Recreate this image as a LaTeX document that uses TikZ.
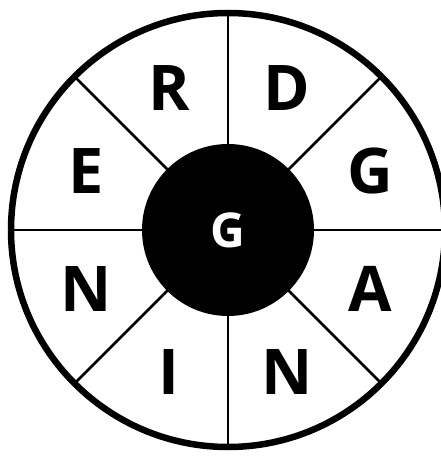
\documentclass[tikz,border=0pt]{standalone}
\usepackage{fontspec}
\setmainfont{Open Sans}
\usepackage{xcolor}

\begin{document}
\begin{tikzpicture}[x=1pt, y=1pt,
    ringstyle/.style={circle, draw, line width=6.5pt, inner sep=0pt, outer sep=0pt, minimum size=434pt},
    hubstyle/.style={circle, fill=black, inner sep=0pt, outer sep=0pt, minimum size=172pt},
    letter/.style={font=\fontsize{63}{63}\selectfont\bfseries, inner sep=0pt},
    spoke/.style={line width=2.5pt}]
    \useasboundingbox (0,0) rectangle (441,456);
    \clip (0,0) rectangle (441,456);
    \node[ringstyle] (ring) at (228,226) {};
    \draw[spoke] (ring.north) -- (ring.south);
    \draw[spoke] (ring.west) -- (ring.east);
    \draw[spoke] (ring.45) -- (ring.225);
    \draw[spoke] (ring.135) -- (ring.315);
    \node[hubstyle] (hub) at (ring.center) {};
    \node[font=\fontsize{48}{48}\selectfont\bfseries, text=white, inner sep=0pt] (hubletter) at (hub.center) {G};
    \node[letter] (r) at ([shift={(112.5:154)}]ring.center) {R};
    \node[letter] (d) at ([shift={(67.5:154)}]ring.center) {D};
    \node[letter] (g) at ([shift={(22.5:154)}]ring.center) {G};
    \node[letter] (a) at ([shift={(-22.5:154)}]ring.center) {A};
    \node[letter] (n1) at ([shift={(-67.5:154)}]ring.center) {N};
    \node[letter] (i) at ([shift={(-112.5:154)}]ring.center) {I};
    \node[letter] (n2) at ([shift={(-157.5:154)}]ring.center) {N};
    \node[letter] (e) at ([shift={(157.5:154)}]ring.center) {E};
\end{tikzpicture}
\end{document}
